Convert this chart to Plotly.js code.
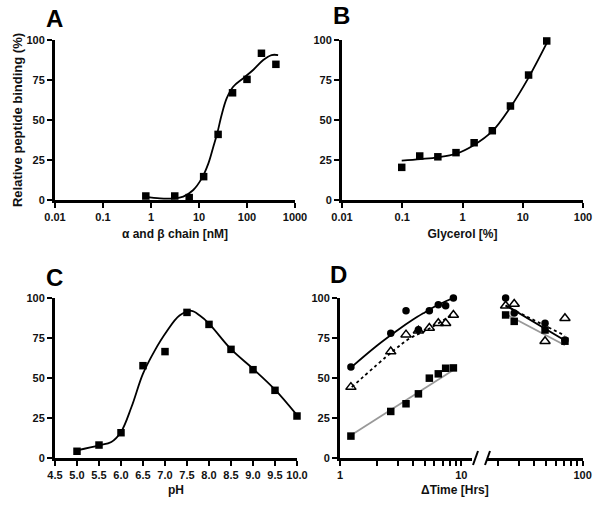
<!DOCTYPE html>
<html><head><meta charset="utf-8">
<script src="https://cdn.plot.ly/plotly-3.0.1.min.js"></script>
<style>html,body{margin:0;padding:0;background:#fff}#chart{width:600px;height:509px}</style>
</head><body><div id="chart"></div>
<script>
// ---- Panel A: alpha and beta chain titration ----
const aConc = [0.78, 3.125, 6.25, 12.5, 25, 50, 100, 200, 400];
const aBinding = [2.5, 2.5, 1.5, 14.6, 41, 67, 75.4, 91.7, 84.8];
const aFitX = [0.75, 1.54, 2.92, 4.7, 7.6, 11.4, 15.7, 19.9, 24, 29.5, 37.7, 51.5, 83, 134, 218, 325, 445];
const aFitY = [2.1, 1.0, 1.0, 2.1, 6.25, 13.5, 22.9, 33.3, 41.7, 53, 63.5, 70.8, 76, 81.25, 87.5, 90.6, 90.6];
const aTicks = [0.01, 0.1, 1, 10, 100, 1000];
const aTickText = ['0.01', '0.1', '1', '10', '100', '1000'];

// ---- Panel B: glycerol ----
const bGlycerol = [0.098, 0.195, 0.39, 0.78, 1.56, 3.125, 6.25, 12.5, 25];
const bBinding = [20.4, 27.5, 27, 29.6, 35.8, 43.3, 58.75, 78.1, 99.4];
const bFitX = [0.098, 0.2, 0.39, 0.78, 1.56, 3.125, 6.25, 12.5, 25];
const bFitY = [24.6, 25.6, 26.7, 28.9, 34.4, 43, 58, 76.5, 98];
const bTicks = [0.01, 0.1, 1, 10, 100];
const bTickText = ['0.01', '0.1', '1', '10', '100'];

// ---- Panel C: pH ----
const cPH = [5.0, 5.5, 6.0, 6.5, 7.0, 7.5, 8.0, 8.5, 9.0, 9.5, 10.0];
const cBinding = [4.2, 8.1, 15.8, 57.7, 66.5, 91, 83.5, 67.9, 55.2, 42.3, 26.25];
const cFitX = [5.0, 5.5, 5.78, 6.0, 6.24, 6.5, 6.77, 7.03, 7.33, 7.6, 7.79, 8.0, 8.5, 9.0, 9.5, 10.0];
const cFitY = [4.8, 7.9, 10, 16.25, 32, 52.7, 67.3, 78.75, 89, 91.9, 89, 84, 68, 55.8, 42.7, 26.7];
const cTicks = [4.5, 5.0, 5.5, 6.0, 6.5, 7.0, 7.5, 8.0, 8.5, 9.0, 9.5, 10.0];

// ---- Panel D: time course ----
const dTimeEarly = [1.23, 2.62, 3.5, 4.43, 5.45, 6.46, 7.43, 8.6];
const dTimeLate = [23.2, 27.3, 49, 71.5];
const dCircleEarly = [56.8, 78, 92.1, 80.2, 92.1, 95.8, 95.2, 100];
const dCircleLate = [100, 90.6, 84.2, 73.8];
const dTriangleEarly = [44.3, 66.5, 77.1, 79.6, 81.3, 84.2, 84.2, 89.4];
const dTriangleLate = [95.2, 96.3, 73, 87.3];
const dSquareEarly = [13.7, 29.1, 33.9, 40.1, 49.9, 52.6, 56.1, 56.3];
const dSquareLate = [89.4, 85.4, 80, 73];
const dFitEarlyX = [1.23, 2, 3, 4, 5, 6, 7, 8.6];
const dCircleFitEarly = [56.5, 70, 80, 86.5, 91, 94.5, 97, 100];
const dTriangleFitEarlyX = [1.25, 2.75, 3.8, 5.2, 8.6];
const dTriangleFitEarly = [44.3, 67, 75, 80, 90];
const dSquareFitEarlyX = [1.25, 8.6];
const dSquareFitEarly = [14.6, 55];
const dFitLateX = [23.2, 71.5];
const dCircleFitLate = [95.5, 73.5];
const dTriangleFitLate = [95, 76.5];
const dSquareFitLate = [90, 70.5];
const dTicksEarly = [1, 2, 3, 4, 5, 6, 7, 8, 9, 10];
const dTickTextEarly = ['1', '', '', '', '', '', '', '', '', '10'];
const dTicksLate = [20, 30, 40, 50, 60, 70, 80, 90, 100];
const dTickTextLate = ['', '', '', '', '', '', '', '', '100'];

const yTicks = [0, 25, 50, 75, 100];

const FONT = 'Arial, "Liberation Sans", sans-serif';
const sq = {symbol: 'square', size: 7.5, color: '#000'};
const ci = {symbol: 'circle', size: 7.5, color: '#000'};
const tri = {symbol: 'triangle-up-open', size: 9, color: '#000', line: {width: 1.5, color: '#000'}};
const blackLine = {color: '#000', width: 1.8, shape: 'spline'};

const traces = [
  {x: aFitX, y: aFitY, xaxis: 'x', yaxis: 'y', mode: 'lines', line: blackLine, cliponaxis: false},
  {x: aConc, y: aBinding, xaxis: 'x', yaxis: 'y', mode: 'markers', marker: sq, cliponaxis: false},
  {x: bFitX, y: bFitY, xaxis: 'x2', yaxis: 'y2', mode: 'lines', line: blackLine, cliponaxis: false},
  {x: bGlycerol, y: bBinding, xaxis: 'x2', yaxis: 'y2', mode: 'markers', marker: sq, cliponaxis: false},
  {x: cFitX, y: cFitY, xaxis: 'x3', yaxis: 'y3', mode: 'lines', line: blackLine, cliponaxis: false},
  {x: cPH, y: cBinding, xaxis: 'x3', yaxis: 'y3', mode: 'markers', marker: sq, cliponaxis: false},
  // D early
  {x: dSquareFitEarlyX, y: dSquareFitEarly, xaxis: 'x4', yaxis: 'y4', mode: 'lines', line: {color: '#999', width: 1.8}, cliponaxis: false},
  {x: dTriangleFitEarlyX, y: dTriangleFitEarly, xaxis: 'x4', yaxis: 'y4', mode: 'lines', line: {color: '#000', width: 1.8, dash: 'dot', shape: 'spline'}, cliponaxis: false},
  {x: dFitEarlyX, y: dCircleFitEarly, xaxis: 'x4', yaxis: 'y4', mode: 'lines', line: blackLine, cliponaxis: false},
  {x: dTimeEarly, y: dSquareEarly, xaxis: 'x4', yaxis: 'y4', mode: 'markers', marker: sq, cliponaxis: false},
  {x: dTimeEarly, y: dTriangleEarly, xaxis: 'x4', yaxis: 'y4', mode: 'markers', marker: tri, cliponaxis: false},
  {x: dTimeEarly, y: dCircleEarly, xaxis: 'x4', yaxis: 'y4', mode: 'markers', marker: ci, cliponaxis: false},
  // D late
  {x: dFitLateX, y: dSquareFitLate, xaxis: 'x5', yaxis: 'y4', mode: 'lines', line: {color: '#999', width: 1.8}, cliponaxis: false},
  {x: dFitLateX, y: dTriangleFitLate, xaxis: 'x5', yaxis: 'y4', mode: 'lines', line: {color: '#000', width: 1.8, dash: 'dot'}, cliponaxis: false},
  {x: dFitLateX, y: dCircleFitLate, xaxis: 'x5', yaxis: 'y4', mode: 'lines', line: {color: '#000', width: 1.8}, cliponaxis: false},
  {x: dTimeLate, y: dSquareLate, xaxis: 'x5', yaxis: 'y4', mode: 'markers', marker: sq, cliponaxis: false},
  {x: dTimeLate, y: dTriangleLate, xaxis: 'x5', yaxis: 'y4', mode: 'markers', marker: tri, cliponaxis: false},
  {x: dTimeLate, y: dCircleLate, xaxis: 'x5', yaxis: 'y4', mode: 'markers', marker: ci, cliponaxis: false}
];

const tickFont = {family: FONT, size: 11, color: '#111', weight: 'bold'};
const titleFont = {family: FONT, size: 12, color: '#111', weight: 'bold'};

function xax(extra) {
  return Object.assign({
    showline: true, linewidth: 3, linecolor: '#000', ticks: 'outside', ticklen: 5, tickwidth: 2,
    tickcolor: '#000', showgrid: false, zeroline: false, tickfont: tickFont, fixedrange: true
  }, extra);
}
function yax(extra) {
  return Object.assign({
    showline: true, linewidth: 3, linecolor: '#000', ticks: 'outside', ticklen: 5, tickwidth: 2,
    tickcolor: '#000', showgrid: false, zeroline: false, tickfont: tickFont, range: [0, 100],
    tickmode: 'array', tickvals: yTicks, fixedrange: true
  }, extra);
}

const yTopDom = [1 - 200 / 509, 1 - 40 / 509];
const yBotDom = [1 - 458 / 509, 1 - 298 / 509];

const layout = {
  width: 600, height: 509,
  margin: {l: 0, r: 0, t: 0, b: 0},
  paper_bgcolor: '#fff', plot_bgcolor: '#fff',
  showlegend: false,
  font: {family: FONT},
  xaxis: xax({type: 'log', range: [-2, 3], domain: [55 / 600, 295 / 600], anchor: 'y',
    tickmode: 'array', tickvals: aTicks, ticktext: aTickText,
    title: {text: 'α and β chain [nM]', font: titleFont, standoff: 8}}),
  yaxis: yax({domain: yTopDom, anchor: 'x',
    title: {text: 'Relative peptide binding (%)', font: {family: FONT, size: 13, color: '#111', weight: 'bold'}, standoff: 1}}),
  xaxis2: xax({type: 'log', range: [-2, 2], domain: [342 / 600, 583 / 600], anchor: 'y2',
    tickmode: 'array', tickvals: bTicks, ticktext: bTickText,
    title: {text: 'Glycerol [%]', font: titleFont, standoff: 8}}),
  yaxis2: yax({domain: yTopDom, anchor: 'x2'}),
  xaxis3: xax({range: [4.5, 10], domain: [55 / 600, 297 / 600], anchor: 'y3',
    tickmode: 'array', tickvals: cTicks, tickformat: '.1f',
    title: {text: 'pH', font: titleFont, standoff: 6}}),
  yaxis3: yax({domain: yBotDom, anchor: 'x3'}),
  xaxis4: xax({type: 'log', range: [0, 1.088], domain: [340 / 600, 472 / 600], anchor: 'y4',
    tickmode: 'array', tickvals: dTicksEarly, ticktext: dTickTextEarly}),
  yaxis4: yax({domain: yBotDom, anchor: 'x4'}),
  xaxis5: xax({type: 'log', range: [1.212, 2.003], domain: [487 / 600, 583 / 600], anchor: 'y4',
    tickmode: 'array', tickvals: dTicksLate, ticktext: dTickTextLate}),
  annotations: [
    {text: 'A', x: 55 / 600, y: 1 - 18 / 509, xref: 'paper', yref: 'paper', showarrow: false,
     font: {family: FONT, size: 24, color: '#000', weight: 'bold'}, xanchor: 'center', yanchor: 'middle'},
    {text: 'B', x: 341 / 600, y: 1 - 16 / 509, xref: 'paper', yref: 'paper', showarrow: false,
     font: {family: FONT, size: 24, color: '#000', weight: 'bold'}, xanchor: 'center', yanchor: 'middle'},
    {text: 'C', x: 55 / 600, y: 1 - 277 / 509, xref: 'paper', yref: 'paper', showarrow: false,
     font: {family: FONT, size: 24, color: '#000', weight: 'bold'}, xanchor: 'center', yanchor: 'middle'},
    {text: 'D', x: 338 / 600, y: 1 - 274 / 509, xref: 'paper', yref: 'paper', showarrow: false,
     font: {family: FONT, size: 24, color: '#000', weight: 'bold'}, xanchor: 'center', yanchor: 'middle'},
    {text: 'ΔTime [Hrs]', x: 455 / 600, y: 1 - 490 / 509, xref: 'paper', yref: 'paper', showarrow: false,
     font: titleFont, xanchor: 'center', yanchor: 'middle'}
  ],
  shapes: [
    {type: 'line', xref: 'paper', yref: 'paper', x0: 473 / 600, y0: 1 - 465 / 509, x1: 478 / 600, y1: 1 - 451 / 509,
     line: {color: '#000', width: 2}},
    {type: 'line', xref: 'paper', yref: 'paper', x0: 485 / 600, y0: 1 - 465 / 509, x1: 490 / 600, y1: 1 - 451 / 509,
     line: {color: '#000', width: 2}}
  ]
};

Plotly.newPlot('chart', traces, layout, {displayModeBar: false, staticPlot: true});
</script>
</body></html>
